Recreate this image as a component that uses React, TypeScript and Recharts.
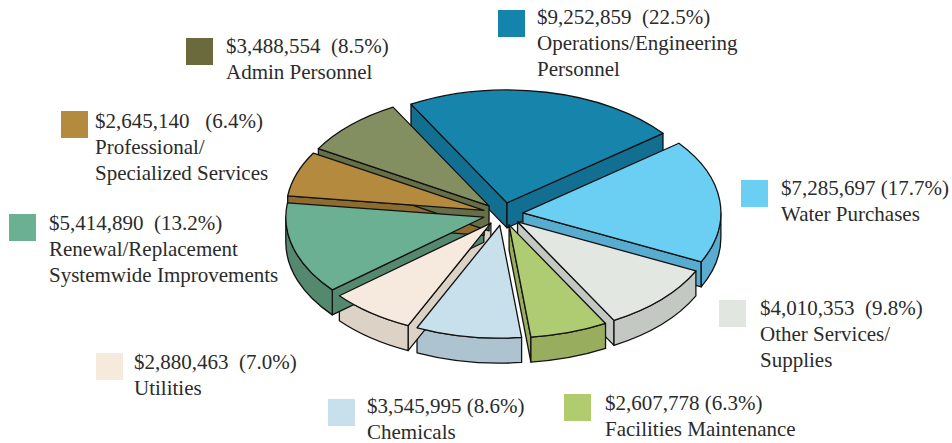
import React from "react";
import { PieChart, Pie } from "recharts";

const categories = [
  "Operations/Engineering\nPersonnel",
  "Water Purchases",
  "Other Services/\nSupplies",
  "Facilities Maintenance",
  "Chemicals",
  "Utilities",
  "Renewal/Replacement\nSystemwide Improvements",
  "Professional/\nSpecialized Services",
  "Admin Personnel",
];

const amounts = [9252859, 7285697, 4010353, 2607778, 3545995, 2880463, 5414890, 2645140, 3488554];

const percents = ["22.5%", "17.7%", "9.8%", "6.3%", "8.6%", "7.0%", "13.2%", "6.4%", "8.5%"];

// spaces between amount and percent, as printed
const gaps = [2, 1, 2, 1, 1, 2, 2, 3, 2];

const topColors = ["#1784ac", "#6bcff3", "#e3e7e1", "#b0cc72", "#c8e0ec", "#f5eadd", "#6bb092", "#b38a3e", "#848f61"];
const sideColors = ["#126f92", "#57acd0", "#c4c8c3", "#98ae5e", "#aec3d0", "#dcd2c5", "#55896f", "#8e6b2e", "#676f48"];
const swatchColors = ["#1584ad", "#6bcff3", "#e1e6e0", "#b0cc6f", "#c8e0ec", "#f5eadb", "#6bb092", "#b38a3e", "#6b6a3d"];

// legend placement: swatch x, swatch y, text x, text y
const legendPos = [
  [498, 10, 537, 4],
  [741, 180, 781, 175],
  [719, 300, 760, 295],
  [564, 394, 605, 390],
  [328, 399, 367, 393],
  [96, 353, 134, 349],
  [9, 214, 49, 210],
  [61, 111, 95, 108],
  [186, 38, 226, 33],
];

const data = categories.map((name, i) => ({
  name,
  value: amounts[i],
  topFill: topColors[i],
  sideFill: sideColors[i],
}));

const TILT = 0.57;
const DEPTH = 25;
const EXPLODE = 20;
const rad = (d: number) => (d * Math.PI) / 180;

function geometry(props: any) {
  const { cx, cy, outerRadius, startAngle, endAngle } = props;
  const rx = outerRadius;
  const ry = outerRadius * TILT;
  const hi = Math.max(startAngle, endAngle);
  const lo = Math.min(startAngle, endAngle);
  const mid = (hi + lo) / 2;
  const ox = cx + EXPLODE * Math.cos(rad(mid));
  const oy = cy - EXPLODE * TILT * Math.sin(rad(mid));
  const pt = (a: number, d = 0) => [ox + rx * Math.cos(rad(a)), oy - ry * Math.sin(rad(a)) + d];
  return { rx, ry, hi, lo, ox, oy, pt };
}

const colorOf = (props: any, key: string) =>
  props[key] ?? props.payload?.[key] ?? props.payload?.payload?.[key] ?? "#999";

function TopShape(props: any) {
  const { rx, ry, hi, lo, ox, oy, pt } = geometry(props);
  const a = pt(hi);
  const b = pt(lo);
  const large = hi - lo > 180 ? 1 : 0;
  const d = `M${ox},${oy} L${a[0]},${a[1]} A${rx},${ry} 0 ${large} 1 ${b[0]},${b[1]} Z`;
  return <path d={d} fill={colorOf(props, "topFill")} stroke="#111" strokeWidth={1.3} strokeLinejoin="round" />;
}

function SideShape(props: any) {
  const { rx, ry, hi, lo, ox, oy, pt } = geometry(props);
  const fill = colorOf(props, "sideFill");
  const paths: string[] = [];

  // radial faces
  if (Math.cos(rad(hi)) < 0) {
    const p = pt(hi);
    const q = pt(hi, DEPTH);
    paths.push(`M${ox},${oy} L${p[0]},${p[1]} L${q[0]},${q[1]} L${ox},${oy + DEPTH} Z`);
  }
  if (Math.cos(rad(lo)) > 0) {
    const p = pt(lo);
    const q = pt(lo, DEPTH);
    paths.push(`M${ox},${oy} L${p[0]},${p[1]} L${q[0]},${q[1]} L${ox},${oy + DEPTH} Z`);
  }

  // outer curved wall, front half only
  for (let k = -2; k <= 1; k++) {
    const a1 = Math.max(lo, -180 + 360 * k);
    const a2 = Math.min(hi, 360 * k);
    if (a2 - a1 > 0.01) {
      const p1 = pt(a2);
      const p2 = pt(a1);
      const q2 = pt(a1, DEPTH);
      const q1 = pt(a2, DEPTH);
      paths.push(
        `M${p1[0]},${p1[1]} A${rx},${ry} 0 0 1 ${p2[0]},${p2[1]} L${q2[0]},${q2[1]} A${rx},${ry} 0 0 0 ${q1[0]},${q1[1]} Z`
      );
    }
  }

  return (
    <g>
      {paths.map((d, i) => (
        <path key={i} d={d} fill={fill} stroke="#111" strokeWidth={1.3} strokeLinejoin="round" />
      ))}
    </g>
  );
}

const textStyle: React.CSSProperties = {
  position: "absolute",
  fontFamily: "'Liberation Serif', 'Times New Roman', serif",
  fontSize: 21,
  lineHeight: "26px",
  color: "#2b2b2b",
  whiteSpace: "pre",
};

export default function App() {
  return (
    <div style={{ position: "absolute", left: 0, top: 0, width: 952, height: 443, background: "#fff", overflow: "hidden" }}>
      <PieChart width={952} height={443} margin={{ top: 0, right: 0, bottom: 0, left: 0 }}>
        <Pie
          data={data}
          dataKey="value"
          cx={503}
          cy={214}
          outerRadius={198}
          startAngle={119}
          endAngle={-241}
          stroke="none"
          isAnimationActive={false}
          shape={SideShape}
          inactiveShape={SideShape}
          activeShape={SideShape}
        />
        <Pie
          data={data}
          dataKey="value"
          cx={503}
          cy={214}
          outerRadius={198}
          startAngle={119}
          endAngle={-241}
          stroke="none"
          isAnimationActive={false}
          shape={TopShape}
          inactiveShape={TopShape}
          activeShape={TopShape}
        />
      </PieChart>

      {categories.map((name, i) => {
        const [sx, sy, tx, ty] = legendPos[i];
        const head = `$${amounts[i].toLocaleString("en-US")}${" ".repeat(gaps[i])}(${percents[i]})`;
        return (
          <React.Fragment key={name}>
            <div
              style={{ position: "absolute", left: sx, top: sy, width: 27, height: 27, background: swatchColors[i] }}
            />
            <div style={{ ...textStyle, left: tx, top: ty }}>{head + "\n" + name}</div>
          </React.Fragment>
        );
      })}
    </div>
  );
}
